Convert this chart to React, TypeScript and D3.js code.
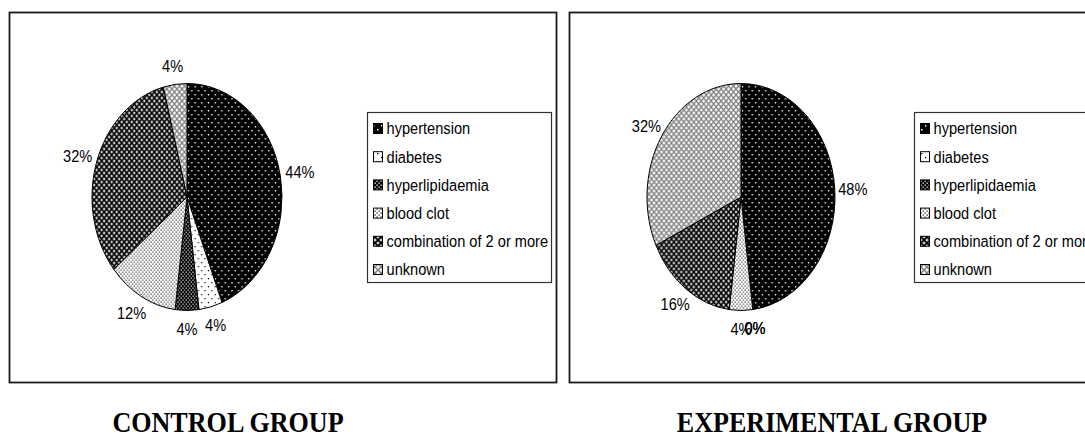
import React from 'react';
import * as d3 from 'd3';

// Risk-factor categories shared by both groups
const categories = [
  'hypertension',
  'diabetes',
  'hyperlipidaemia',
  'blood clot',
  'combination of 2 or more',
  'unknown',
];

// Share of patients per category (%)
const controlValues = [44, 4, 4, 12, 32, 4];
const experimentalValues = [48, 0, 0, 4, 16, 32];

const groupTitles = ['CONTROL GROUP', 'EXPERIMENTAL GROUP'];

const W = 1085;
const H = 436;
const SANS = '"Liberation Sans", Arial, sans-serif';
const SERIF = '"Liberation Serif", "Times New Roman", serif';

// Horizontal squeeze applied to text so glyphs keep the condensed look
const TEXT_SX = 0.86;

type Layout = {
  box: { x: number; y: number; w: number; h: number };
  cx: number;
  cy: number;
  rx: number;
  ry: number;
  labelRx: number;
  labelRy: number;
  legend: { x: number; y: number; w: number; h: number };
  titleX: number;
};

const layouts: Layout[] = [
  {
    box: { x: 9.5, y: 12.5, w: 547, h: 370 },
    cx: 187, cy: 197, rx: 95, ry: 113.5,
    labelRx: 115, labelRy: 132,
    legend: { x: 367.5, y: 112.5, w: 184, h: 170 },
    titleX: 228,
  },
  {
    box: { x: 569.5, y: 12.5, w: 547, h: 370 },
    cx: 741, cy: 197, rx: 94, ry: 113.5,
    labelRx: 112, labelRy: 132,
    legend: { x: 914.5, y: 112.5, w: 184, h: 170 },
    titleX: 832,
  },
];

function Patterns() {
  return (
    <defs>
      {/* hypertension: black with sparse white dots */}
      <pattern id="pat-0" patternUnits="userSpaceOnUse" width={8} height={8}>
        <rect width={8} height={8} fill="#000" />
        <rect x={1} y={1} width={1.5} height={1.5} fill="#fff" />
        <rect x={5} y={5} width={1.5} height={1.5} fill="#fff" />
      </pattern>
      {/* diabetes: white with sparse black dots */}
      <pattern id="pat-1" patternUnits="userSpaceOnUse" width={8} height={8}>
        <rect width={8} height={8} fill="#fff" />
        <rect x={1} y={1} width={1.3} height={1.3} fill="#000" />
        <rect x={5} y={5} width={1.3} height={1.3} fill="#000" />
      </pattern>
      {/* hyperlipidaemia: black with dense white dots */}
      <pattern id="pat-2" patternUnits="userSpaceOnUse" width={4} height={4}>
        <rect width={4} height={4} fill="#000" />
        <rect x={0.5} y={0.5} width={1.3} height={1.3} fill="#fff" />
        <rect x={2.5} y={2.5} width={1.3} height={1.3} fill="#fff" />
      </pattern>
      {/* blood clot: white with dense black dots */}
      <pattern id="pat-3" patternUnits="userSpaceOnUse" width={4} height={4}>
        <rect width={4} height={4} fill="#fff" />
        <rect x={0.5} y={0.5} width={1.2} height={1.2} fill="#000" />
        <rect x={2.5} y={2.5} width={1.2} height={1.2} fill="#000" />
      </pattern>
      {/* combination: dark diagonal lattice */}
      <pattern id="pat-4" patternUnits="userSpaceOnUse" width={6} height={6}>
        <rect width={6} height={6} fill="#8a8a8a" />
        <path d="M0,0L6,6M6,0L0,6" stroke="#000" strokeWidth={1.4} />
        <rect x={2.3} y={-0.7} width={1.4} height={1.4} fill="#fff" />
        <rect x={2.3} y={5.3} width={1.4} height={1.4} fill="#fff" />
        <rect x={-0.7} y={2.3} width={1.4} height={1.4} fill="#fff" />
        <rect x={5.3} y={2.3} width={1.4} height={1.4} fill="#fff" />
      </pattern>
      {/* unknown: light diagonal lattice */}
      <pattern id="pat-5" patternUnits="userSpaceOnUse" width={6} height={6}>
        <rect width={6} height={6} fill="#eee" />
        <path d="M0,0L6,6M6,0L0,6" stroke="#808080" strokeWidth={1.3} />
        <rect x={2.3} y={-0.7} width={1.4} height={1.4} fill="#fff" />
        <rect x={2.3} y={5.3} width={1.4} height={1.4} fill="#fff" />
        <rect x={-0.7} y={2.3} width={1.4} height={1.4} fill="#fff" />
        <rect x={5.3} y={2.3} width={1.4} height={1.4} fill="#fff" />
      </pattern>
    </defs>
  );
}

function SqueezedText({ x, y, children, size, anchor = 'middle', family = SANS, weight = 'normal', sx = TEXT_SX }: any) {
  return (
    <g transform={`translate(${x},${y}) scale(${sx},1)`}>
      <text
        x={0}
        y={0}
        fontFamily={family}
        fontSize={size}
        fontWeight={weight}
        textAnchor={anchor}
        dominantBaseline="central"
        fill="#000"
      >
        {children}
      </text>
    </g>
  );
}

function PiePanel({ values, layout, title }: { values: number[]; layout: Layout; title: string }) {
  const total = d3.sum(values);
  const pie = d3
    .pie<number>()
    .sort(null)
    .value((d) => d)
    .startAngle(0)
    .endAngle(2 * Math.PI);
  const arcs = pie(values);
  const arc = d3.arc<d3.PieArcDatum<number>>().innerRadius(0).outerRadius(layout.ry);
  const pct = d3.format('.0%');
  const { box, legend } = layout;
  const rowY = d3
    .scalePoint<string>()
    .domain(categories)
    .range([legend.y + 16, legend.y + legend.h - 13]);

  return (
    <g>
      <rect x={box.x} y={box.y} width={box.w} height={box.h} fill="#fff" stroke="#1a1a1a" strokeWidth={1.8} />
      <g transform={`translate(${layout.cx},${layout.cy}) scale(${layout.rx / layout.ry},1)`}>
        {arcs.map((a, i) =>
          a.value > 0 ? (
            <path
              key={i}
              d={arc(a) || ''}
              fill={`url(#pat-${i})`}
              stroke="#000"
              strokeWidth={1}
              vectorEffect="non-scaling-stroke"
            />
          ) : null
        )}
      </g>
      {arcs.map((a, i) => {
        const mid = (a.startAngle + a.endAngle) / 2;
        const x = layout.cx + layout.labelRx * Math.sin(mid);
        const y = layout.cy - layout.labelRy * Math.cos(mid);
        return (
          <SqueezedText key={i} x={x} y={y} size={17}>
            {pct(a.value / total)}
          </SqueezedText>
        );
      })}
      <rect x={legend.x} y={legend.y} width={legend.w} height={legend.h} fill="#fff" stroke="#333" strokeWidth={1.2} />
      {categories.map((c, i) => {
        const y = rowY(c) as number;
        return (
          <g key={c}>
            <rect x={legend.x + 6} y={y - 5} width={9} height={10} fill={`url(#pat-${i})`} stroke="#000" strokeWidth={1} />
            <SqueezedText x={legend.x + 19} y={y} size={17} anchor="start">
              {c}
            </SqueezedText>
          </g>
        );
      })}
      <g transform={`translate(${layout.titleX},432) scale(0.9,1)`}>
        <text x={0} y={0} fontFamily={SERIF} fontSize={29} fontWeight="bold" textAnchor="middle" fill="#000">
          {title}
        </text>
      </g>
    </g>
  );
}

export default function App() {
  const series = [controlValues, experimentalValues];
  return (
    <svg
      width={W}
      height={H}
      viewBox={`0 0 ${W} ${H}`}
      style={{ position: 'absolute', left: 0, top: 0, background: '#fff' }}
    >
      <Patterns />
      <rect width={W} height={H} fill="#fff" />
      {series.map((vals, i) => (
        <PiePanel key={i} values={vals} layout={layouts[i]} title={groupTitles[i]} />
      ))}
    </svg>
  );
}
